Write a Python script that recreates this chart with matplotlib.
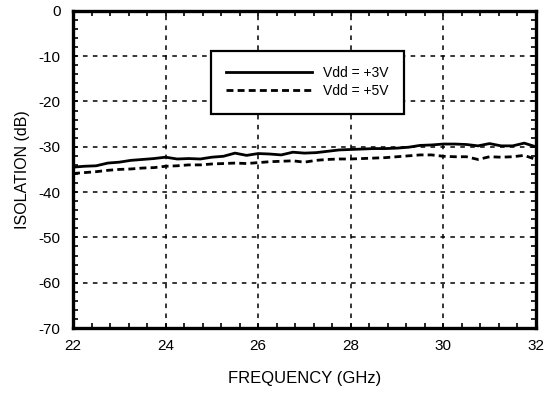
import matplotlib
matplotlib.use("Agg")
import matplotlib.pyplot as plt
from matplotlib.ticker import MultipleLocator

plt.rcParams['font.family'] = ['Liberation Sans', 'DejaVu Sans']
plt.rcParams['axes.unicode_minus'] = False

# Data
freq = [22.0, 22.25, 22.5, 22.75, 23.0, 23.25, 23.5, 23.75, 24.0, 24.25,
        24.5, 24.75, 25.0, 25.25, 25.5, 25.75, 26.0, 26.25, 26.5, 26.75,
        27.0, 27.25, 27.5, 27.75, 28.0, 28.25, 28.5, 28.75, 29.0, 29.25,
        29.5, 29.75, 30.0, 30.25, 30.5, 30.75, 31.0, 31.25, 31.5, 31.75, 32.0]

iso_3v = [-34.5, -34.3, -34.2, -33.6, -33.4, -33.0, -32.8, -32.6, -32.3, -32.7,
          -32.6, -32.7, -32.3, -32.1, -31.4, -31.9, -31.5, -31.6, -31.8, -31.2,
          -31.4, -31.3, -31.0, -30.7, -30.6, -30.5, -30.4, -30.4, -30.3, -30.1,
          -29.7, -29.6, -29.4, -29.4, -29.5, -29.8, -29.3, -29.8, -29.8, -29.2, -30.0]

iso_5v = [-35.9, -35.7, -35.5, -35.2, -35.0, -34.9, -34.7, -34.6, -34.3, -34.2,
          -34.0, -34.0, -33.8, -33.7, -33.6, -33.7, -33.5, -33.3, -33.2, -33.1,
          -33.4, -33.0, -32.8, -32.7, -32.7, -32.6, -32.5, -32.4, -32.2, -32.0,
          -31.8, -31.8, -32.1, -32.2, -32.2, -32.8, -32.2, -32.3, -32.2, -31.9, -32.8]

x_ticks = [22, 24, 26, 28, 30, 32]
y_ticks = [0, -10, -20, -30, -40, -50, -60, -70]

fig = plt.figure(figsize=(5.49, 3.94), dpi=100)
ax = fig.add_axes([0.133, 0.1675, 0.843, 0.805])

ax.plot(freq, iso_3v, color='black', linewidth=2.0, label='Vdd = +3V')
ax.plot(freq, iso_5v, color='black', linewidth=2.0, linestyle=(0, (2.5, 1.5)),
        label='Vdd = +5V')

ax.set_xlim(22, 32)
ax.set_ylim(-70, 0)
ax.set_xticks(x_ticks)
ax.set_yticks(y_ticks)
ax.xaxis.set_minor_locator(MultipleLocator(0.4))
ax.yaxis.set_minor_locator(MultipleLocator(2))

ax.grid(True, which='major', color='black', linestyle=(0, (3, 3.5)), linewidth=1.1)
ax.tick_params(which='both', direction='in', top=True, right=True,
               length=3.5, width=1.2, labelsize=11)
ax.tick_params(axis='y', pad=9)
ax.tick_params(axis='x', pad=8)
for s in ax.spines.values():
    s.set_linewidth(2.4)

ax.set_xlabel('FREQUENCY (GHz)', fontsize=12, labelpad=13)
ax.set_ylabel('ISOLATION (dB)', fontsize=11.5, labelpad=6)

leg = ax.legend(loc='upper left', bbox_to_anchor=(0.298, 0.874), fontsize=10,
                handlelength=6.2, handletextpad=0.75, borderpad=1.1,
                labelspacing=0.3, fancybox=False, framealpha=1,
                borderaxespad=0)
leg.get_frame().set_edgecolor('black')
leg.get_frame().set_linewidth(1.6)

fig.savefig('out.png', dpi=100)
